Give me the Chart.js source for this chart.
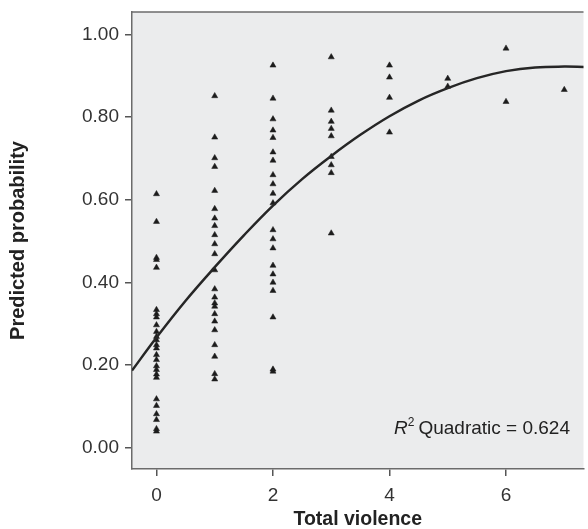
<!DOCTYPE html>
<html>
<head>
<meta charset="utf-8">
<script src="https://cdn.jsdelivr.net/npm/chart.js@4/dist/chart.umd.min.js"></script>
<style>
  html, body { margin: 0; padding: 0; background: #fff; }
  #wrap { width: 588px; height: 529px; }
</style>
</head>
<body>
<div id="wrap"><canvas id="chart" width="588" height="529"></canvas></div>
<script>
// values, one list per violence score
const violence = [0, 1, 2, 3, 4, 5, 6, 7];
const probs = [
  [0.614, 0.547, 0.460, 0.455, 0.436, 0.334, 0.324, 0.316, 0.297, 0.281, 0.269, 0.261, 0.249, 0.241,
   0.225, 0.213, 0.198, 0.189, 0.178, 0.170, 0.118, 0.102, 0.082, 0.068, 0.046, 0.040],
  [0.851, 0.751, 0.701, 0.680, 0.622, 0.578, 0.555, 0.537, 0.515, 0.493, 0.469, 0.430, 0.384, 0.364,
   0.350, 0.342, 0.324, 0.306, 0.285, 0.249, 0.221, 0.179, 0.166],
  [0.925, 0.845, 0.795, 0.768, 0.750, 0.715, 0.695, 0.660, 0.638, 0.615, 0.592, 0.527, 0.505, 0.483,
   0.441, 0.420, 0.400, 0.380, 0.316, 0.190, 0.185],
  [0.945, 0.816, 0.789, 0.772, 0.754, 0.704, 0.684, 0.665, 0.519],
  [0.925, 0.896, 0.847, 0.763],
  [0.893, 0.874],
  [0.966, 0.837],
  [0.866]
];

// quadratic fit line
const fitX = [-0.42, 0, 0.5, 1, 1.5, 2, 2.5, 3, 3.5, 4, 4.5, 5, 5.5, 6, 6.5, 7, 7.35];
const fitY = [0.187, 0.267, 0.356, 0.437, 0.514, 0.586, 0.650, 0.706, 0.757, 0.802, 0.840, 0.870, 0.894, 0.911, 0.920, 0.922, 0.921];

const xTicks = [0, 2, 4, 6];
const yTicks = [0, 0.2, 0.4, 0.6, 0.8, 1.0];
const r2Label = 'Quadratic = 0.624';

const points = [];
violence.forEach((v, i) => probs[i].forEach(p => points.push({ x: v, y: p })));

const FONT = '"Liberation Sans", Arial, sans-serif';

const plotBack = {
  id: 'plotBack',
  beforeDraw(chart) {
    const { ctx, chartArea: a } = chart;
    ctx.save();
    ctx.fillStyle = '#ebeced';
    ctx.fillRect(a.left, a.top, a.right - a.left, a.bottom - a.top);
    ctx.strokeStyle = '#6b6b6b';
    ctx.lineWidth = 1.5;
    ctx.beginPath();
    ctx.moveTo(a.left, a.top);
    ctx.lineTo(a.right, a.top);
    ctx.stroke();
    ctx.restore();
  },
  afterDraw(chart) {
    const { ctx } = chart;
    const base = 434, right = 570;
    ctx.save();
    ctx.fillStyle = '#222';
    ctx.textBaseline = 'alphabetic';
    ctx.font = '19px ' + FONT;
    const w = ctx.measureText(r2Label).width;
    const qx = right - w;
    ctx.fillText(r2Label, qx, base);
    ctx.font = '12px ' + FONT;
    const w2 = ctx.measureText('2').width;
    ctx.fillText('2', qx - 4 - w2, base - 8);
    ctx.font = 'italic 19px ' + FONT;
    const wr = ctx.measureText('R').width;
    ctx.fillText('R', qx - 4 - w2 - wr, base);
    ctx.restore();
  }
};

new Chart(document.getElementById('chart'), {
  type: 'scatter',
  data: {
    datasets: [
      {
        label: 'fit',
        type: 'line',
        data: fitX.map((x, i) => ({ x: x, y: fitY[i] })),
        borderColor: '#262626',
        borderWidth: 2.5,
        pointRadius: 0,
        tension: 0.4,
        fill: false
      },
      {
        label: 'cases',
        data: points,
        pointStyle: 'triangle',
        pointRadius: 3.5,
        backgroundColor: '#1c1c1c',
        borderColor: '#1c1c1c',
        borderWidth: 0.5
      }
    ]
  },
  options: {
    responsive: false,
    animation: false,
    layout: { padding: { top: 12, right: 0, left: 0, bottom: 0 } },
    plugins: { legend: { display: false }, tooltip: { enabled: false } },
    scales: {
      x: {
        type: 'linear',
        min: -0.42,
        max: 7.33,
        afterBuildTicks: s => { s.ticks = xTicks.map(v => ({ value: v })); },
        afterFit: s => { s.height = 60; s.paddingLeft = 0; s.paddingRight = 0; },
        ticks: {
          color: '#333',
          padding: 8,
          maxRotation: 0,
          font: { family: FONT, size: 19 },
          callback: v => String(v)
        },
        grid: { drawOnChartArea: false, tickLength: 7, color: '#555', lineWidth: 1.5 },
        border: { display: true, color: '#6b6b6b', width: 1.5 },
        title: {
          display: true,
          text: 'Total violence',
          color: '#222',
          padding: 0,
          font: { family: FONT, size: 19.5, weight: 'bold', lineHeight: 1 }
        }
      },
      y: {
        type: 'linear',
        min: -0.051,
        max: 1.054,
        afterBuildTicks: s => { s.ticks = yTicks.map(v => ({ value: v })); },
        afterFit: s => { s.width = 132; s.paddingTop = 0; s.paddingBottom = 0; },
        ticks: {
          color: '#333',
          padding: 6,
          font: { family: FONT, size: 19 },
          callback: v => Number(v).toFixed(2)
        },
        grid: { drawOnChartArea: false, tickLength: 7, color: '#555', lineWidth: 1.5 },
        border: { display: true, color: '#6b6b6b', width: 1.5 },
        title: {
          display: true,
          text: 'Predicted probability',
          color: '#222',
          padding: { top: 6, bottom: 0 },
          font: { family: FONT, size: 20, weight: 'bold' }
        }
      }
    }
  },
  plugins: [plotBack]
});
</script>
</body>
</html>
